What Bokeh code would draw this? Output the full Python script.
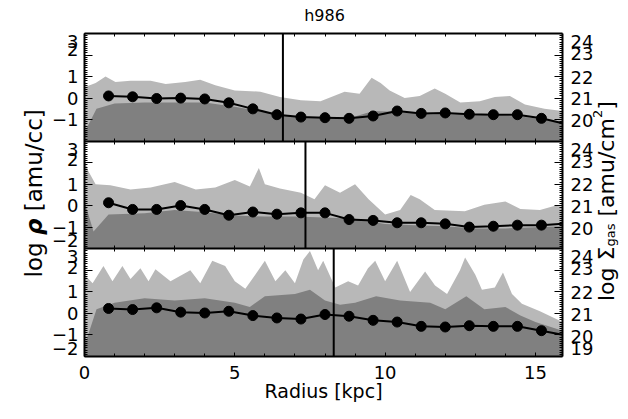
from bokeh.plotting import figure
from bokeh.models import Range1d, LinearAxis, FixedTicker, Label
from bokeh.embed import file_html
from bokeh.resources import INLINE

# ---------------- data ----------------
title_text = "h986"

radius_bins = [0.8, 1.6, 2.4, 3.2, 4.0, 4.8, 5.6, 6.4, 7.2, 8.0,
               8.8, 9.6, 10.4, 11.2, 12.0, 12.8, 13.6, 14.4, 15.2]
radius_tail = 15.9

profile_top = [0.10, 0.06, -0.02, 0.00, -0.04, -0.22, -0.50, -0.77, -0.88, -0.91,
               -0.94, -0.83, -0.60, -0.71, -0.69, -0.75, -0.77, -0.77, -0.94]
profile_mid = [0.14, -0.17, -0.17, 0.01, -0.17, -0.44, -0.29, -0.39, -0.33, -0.33,
               -0.64, -0.68, -0.79, -0.79, -0.84, -0.99, -0.95, -0.90, -0.90]
profile_bot = [0.23, 0.18, 0.26, 0.06, 0.02, 0.10, -0.10, -0.21, -0.26, -0.05,
               -0.13, -0.32, -0.40, -0.60, -0.63, -0.57, -0.60, -0.60, -0.80]
profile_tail = [-1.17, -0.84, -0.99]

marker_radius = [6.6, 7.35, 8.29]

# upper envelope of the sparse cloud of gas cells
cloud_top_x = [0.0, 0.37, 0.7, 1.03, 1.53, 2.2, 2.7, 3.35, 3.85, 4.35, 5.0, 5.85, 6.5, 7.2,
               7.85, 8.65, 9.15, 9.55, 9.85, 10.15, 10.65, 11.15, 11.65, 12.0, 12.5, 13.15,
               13.65, 14.15, 14.65, 15.3, 15.9]
cloud_top_y = [0.5, 0.7, 1.0, 0.75, 0.8, 0.8, 0.65, 0.75, 0.85, 0.6, 0.35, 0.3, 0.05, -0.1,
               -0.15, 0.3, 0.2, 0.95, 0.7, 0.35, 0.0, 0.1, 0.45, 0.2, -0.2, -0.15,
               0.05, 0.1, -0.3, -0.5, -0.6]
cloud_mid_x = [0.0, 0.13, 0.37, 0.86, 1.53, 2.2, 3.0, 3.7, 4.35, 5.0, 5.5, 5.8, 6.0, 6.5,
               7.2, 7.65, 8.0, 8.5, 9.0, 9.45, 10.0, 10.5, 10.85, 11.15, 11.65, 12.65,
               13.3, 14.0, 14.5, 15.15, 15.65, 15.9]
cloud_mid_y = [2.1, 1.6, 1.0, 0.95, 0.75, 0.85, 1.1, 0.75, 0.85, 1.2, 0.9, 1.75, 1.0, 0.8,
               0.6, 0.3, 0.95, 0.6, 1.0, 0.3, -0.4, -0.2, 0.5, 0.3, -0.2, -0.25,
               0.05, 0.2, -0.15, -0.2, 0.0, -0.05]
cloud_bot_x = [0.0, 0.27, 0.63, 0.93, 1.26, 1.53, 1.86, 2.13, 2.36, 2.86, 3.52, 3.85, 4.25,
               4.68, 5.0, 5.35, 5.68, 6.0, 6.35, 6.68, 7.0, 7.28, 7.5, 7.77, 7.94, 8.34,
               8.77, 9.1, 9.43, 9.67, 10.0, 10.4, 10.83, 11.33, 11.66, 12.06, 12.49, 12.66,
               13.0, 13.22, 13.65, 13.92, 14.22, 14.55, 15.15, 15.9]
cloud_bot_y = [1.8, 1.4, 2.2, 1.5, 2.2, 1.6, 2.1, 1.5, 2.05, 1.5, 2.0, 1.4, 2.45,
               2.2, 1.5, 1.15, 1.8, 2.45, 1.5, 2.0, 1.4, 2.5, 2.9, 2.0, 2.45, 1.2,
               1.5, 1.3, 2.1, 2.45, 1.5, 2.45, 1.0, 1.95, 1.3, 0.9, 2.0, 2.6,
               1.8, 1.1, 1.2, 1.9, 0.9, 0.45, 0.1, -0.4]

# upper edge of the dense (solid) part of the cloud
dense_top_x = [0.0, 0.4, 1.0, 2.0, 3.0, 4.0, 5.0, 6.0, 7.0, 8.0, 9.0, 9.6, 10.5, 11.5, 12.5, 13.5, 14.5, 15.9]
dense_top_y = [-1.6, -0.5, -0.25, -0.2, -0.2, -0.2, -0.4, -0.65, -0.85, -0.9, -0.85, -0.6, -0.65, -0.75, -0.75, -0.8, -0.85, -1.1]
dense_mid_x = [0.0, 0.3, 0.8, 2.0, 3.0, 4.0, 5.0, 6.0, 7.0, 8.0, 9.0, 10.0, 11.0, 12.0, 13.0, 14.0, 15.0, 15.9]
dense_mid_y = [0.2, -1.2, -0.4, -0.35, -0.2, -0.3, -0.45, -0.5, -0.5, -0.55, -0.6, -0.85, -0.9, -0.95, -1.05, -1.05, -1.0, -0.95]
dense_bot_x = [0.0, 0.4, 1.0, 2.0, 3.0, 4.0, 5.0, 5.5, 6.0, 7.0, 7.5, 8.0, 8.5, 9.0, 9.7, 10.5, 11.5, 12.0, 12.7, 13.3, 14.0, 14.5, 15.0, 15.9]
dense_bot_y = [-1.5, 0.2, 0.5, 0.7, 0.6, 0.7, 0.5, 0.3, 0.8, 0.9, 1.1, 0.6, 0.4, 0.5, 0.8, 0.6, 0.5, 0.2, 0.8, 0.2, 0.3, -0.1, -0.4, -0.8]

rho_tick_values = [3, 2, 1, 0, -1, -2]
sigma_tick_values = [24, 23, 22, 21, 20, 19]
x_major_ticks = [0, 5, 10, 15]
x_minor_ticks = list(range(0, 16))

# ---------------- layout / style ----------------
FONT = "DejaVu Sans"
W, H = 620, 403
X_MAX = 15.9
PANEL_SPAN = 5.0
RHO_MIN = -2.0
SIGMA_SHIFT = 21.0
FRAME_L, FRAME_R, FRAME_T, FRAME_B = 84, 562, 33, 356      # pixel box of the panels
XS = (FRAME_R - FRAME_L) / X_MAX
YS = (FRAME_B - FRAME_T) / (3 * PANEL_SPAN)
DENSE = "#808080"
SPARSE = "#b8b8b8"

def xd(px):
    return (px - FRAME_L) / XS

def yd(py):
    return (FRAME_B - py) / YS

p = figure(width=W, height=H,
           x_range=Range1d(xd(0), xd(W)), y_range=Range1d(yd(H), yd(0)),
           output_backend="svg", toolbar_location=None,
           x_axis_location=None, y_axis_location=None, min_border=0)
p.outline_line_color = None
p.background_fill_color = "white"
p.border_fill_color = "white"
p.xgrid.visible = False
p.ygrid.visible = False

def to_global(vals, i):
    off = PANEL_SPAN * (2 - i) - RHO_MIN
    return [v + off for v in vals]

profiles = [profile_top, profile_mid, profile_bot]
clouds = [(cloud_top_x, cloud_top_y), (cloud_mid_x, cloud_mid_y), (cloud_bot_x, cloud_bot_y)]
denses = [(dense_top_x, dense_top_y), (dense_mid_x, dense_mid_y), (dense_bot_x, dense_bot_y)]

for i in range(3):
    base = PANEL_SPAN * (2 - i)
    cx, cy = clouds[i]
    p.varea(x=cx, y1=[base] * len(cx), y2=to_global(cy, i), fill_color=SPARSE)
    dx, dy = denses[i]
    p.varea(x=dx, y1=[base] * len(dx), y2=to_global(dy, i), fill_color=DENSE)

for i in range(3):
    base = PANEL_SPAN * (2 - i)
    p.segment(x0=[marker_radius[i]], x1=[marker_radius[i]], y0=[base], y1=[base + PANEL_SPAN],
              line_color="black", line_width=2)
    p.line(radius_bins + [radius_tail], to_global(profiles[i] + [profile_tail[i]], i),
           line_color="black", line_width=2)
    p.scatter(radius_bins, to_global(profiles[i], i), size=10, marker="circle",
              fill_color="black", line_color="black")

# ---------------- axes (fixed at the panel edges) ----------------
def axis(side, loc, ticks, minor, bounds, tick_len=0, minor_len=0, line=True):
    ax = LinearAxis(ticker=FixedTicker(ticks=ticks, minor_ticks=minor),
                    fixed_location=loc, bounds=bounds)
    ax.axis_line_color = "black" if line else None
    ax.axis_line_width = 2
    ax.major_tick_in = tick_len
    ax.major_tick_out = 0
    ax.minor_tick_in = minor_len
    ax.minor_tick_out = 0
    ax.major_tick_line_color = "black" if tick_len else None
    ax.minor_tick_line_color = "black"
    ax.major_label_text_font = FONT
    ax.major_label_text_color = "black"
    p.add_layout(ax, side)
    return ax

Y_TOP = 3 * PANEL_SPAN
y_int = [float(k) for k in range(0, 16)]
y_minor = [k / 10 for k in range(0, 151) if k % 10 != 0]

for side, loc in (("left", 0.0), ("right", X_MAX)):
    axis(side, loc, [], y_int, (0, Y_TOP), minor_len=8, line=True)
    axis(side, loc, [], y_minor, (0, Y_TOP), minor_len=3, line=False)

# x axes: bottom with labels, tick-only at every panel edge
xb = axis("below", 0.0, x_major_ticks, x_minor_ticks, (0, X_MAX), tick_len=4, minor_len=3)
xb.major_label_text_font_size = "18px"
xb.major_label_standoff = 9
for b in (PANEL_SPAN, 2 * PANEL_SPAN):
    axis("below", b, [], x_minor_ticks, (0, X_MAX), minor_len=3, line=False)
for b in (PANEL_SPAN, 2 * PANEL_SPAN, Y_TOP):
    axis("above", b, [], x_minor_ticks, (0, X_MAX), minor_len=3, line=True)

# tick labels of each panel, placed like the original (pixel nudges, + = down)
left_nudge = {3: 8, 2: -3, 1: 0, 0: 0, -1: 0, -2: -8.5}
right_nudge = {24: 8, 23: -1.5, 22: 0.5, 21: 0.8, 20: 1.3, 19: -8}
l_pos, l_over, r_pos, r_over = [], {}, [], {}
for i in range(3):
    for v in rho_tick_values:
        if i == 0 and v == -2:
            continue
        nudge = -6 if (i == 0 and v == 2) else left_nudge[v]
        pos = round(to_global([v], i)[0] - nudge / YS, 4)
        l_pos.append(pos)
        l_over[pos] = str(v).replace("-", "\u2212")
    for s in sigma_tick_values:
        if s == 19 and i != 2:
            continue
        pos = round(to_global([s - SIGMA_SHIFT], i)[0] - right_nudge[s] / YS, 4)
        r_pos.append(pos)
        r_over[pos] = str(s)

for side, loc, pos, over, standoff in (("left", 0.0, l_pos, l_over, 6),
                                       ("right", X_MAX, r_pos, r_over, 8)):
    ax = axis(side, loc, pos, [], "auto", line=False)
    ax.major_label_overrides = over
    ax.major_label_text_font_size = "18px"
    ax.major_label_standoff = standoff

# ---------------- texts ----------------
def lab(x, y, text, size="22px", angle=90, style="normal", align="left", baseline="alphabetic"):
    p.add_layout(Label(x=x, y=y, text=text, angle=angle, angle_units="deg",
                       text_align=align, text_baseline=baseline, text_font=FONT,
                       text_font_size=size, text_font_style=style, text_color="black"))

lab(xd(324), yd(15), title_text, size="16px", angle=0, align="center", baseline="middle")
lab(xd(323), yd(390), "Radius [kpc]", size="19px", angle=0, align="center", baseline="middle")

# left title: log rho [amu/cc]
LX = xd(33)
lab(LX, yd(277), "log", size="23px")
lab(LX, yd(234.6), "\u03c1", size="23px", style="bold italic")
lab(LX, yd(210.8), "[amu/cc]", size="23px")

# right title: log Sigma_gas [amu/cm^2]
RX = 606
lab(xd(RX), yd(300.5), "log \u03a3")
lab(xd(RX + 4), yd(246.0), "gas", size="13px")
lab(xd(RX), yd(216.0), "[amu/cm")
lab(xd(RX - 9), yd(117.6), "2", size="13px")
lab(xd(RX), yd(109.3), "]")

open("out.html", "w").write(file_html(p, INLINE))
